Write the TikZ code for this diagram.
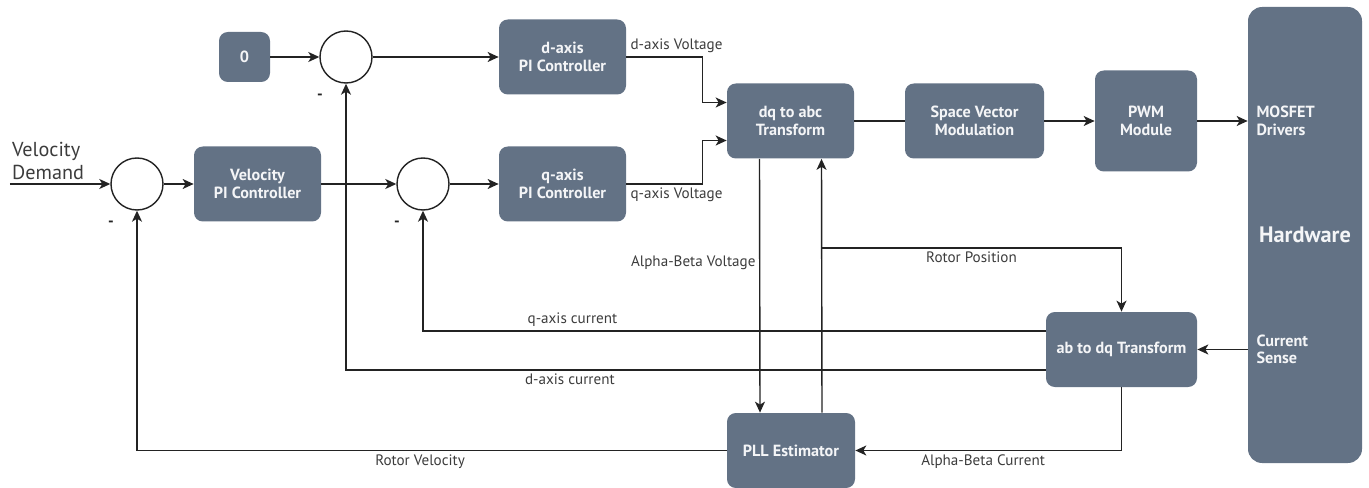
\documentclass[tikz,border=0pt]{standalone}
\usepackage{fontspec}
\setmainfont{PT Sans}
\usetikzlibrary{arrows.meta, positioning, calc}
\definecolor{myslate}{RGB}{99,114,133}
\definecolor{mylight}{RGB}{244,245,247}
\definecolor{mydark}{RGB}{35,35,35}
\definecolor{mygray}{RGB}{60,60,60}
\tikzset{
  block/.style={rectangle, fill=myslate, text=mylight, align=center,
    minimum width=2.54cm, minimum height=1.5cm, rounded corners=5pt,
    font=\fontsize{9.2}{10}\selectfont\bfseries, inner sep=2pt},
  sumc/.style={circle, draw=mydark, fill=white, minimum size=1.04cm,
    line width=0.8pt, inner sep=0pt},
  arrow/.style={-{Stealth[length=2.2mm, width=2mm, inset=0.6mm]}, line width=0.8pt, color=mydark},
  line/.style={line width=0.8pt, color=mydark},
  lbl/.style={font=\fontsize{8.6}{10}\selectfont, text=mygray, inner sep=2pt},
  minus/.style={font=\bfseries\small, text=mydark, inner sep=0pt}
}
\begin{document}
\begin{tikzpicture}
  \useasboundingbox (0,0) rectangle (27.38,-9.76);

  % Summing junctions
  \node[sumc] (s0) at (2.74, -3.68) {};
  \node[sumc] (s1) at (6.92, -1.14) {};
  \node[sumc] (s2) at (8.46, -3.68) {};
  \foreach \s in {s0, s1, s2}
    \node[minus] at ([shift={(-0.52,-0.8)}]\s.center) {-};

  % Controllers
  \node[block, minimum width=1.02cm, minimum height=1.0cm] (zero) at (4.89, -1.14) {0};
  \node[block] (velpi) at (5.15, -3.68) {Velocity\\PI Controller};
  \node[block] (dpi) at (11.25, -1.14) {d-axis\\PI Controller};
  \node[block] (qpi) at (11.25, -3.68) {q-axis\\PI Controller};

  % Forward path
  \node[block] (dq) at (15.81, -2.42) {dq to abc\\Transform};
  \node[block, minimum width=2.78cm] (svm) at (19.49, -2.42) {Space Vector\\Modulation};
  \node[block, minimum width=2.04cm, minimum height=2.02cm] (pwm) at (22.92, -2.42) {PWM\\Module};
  \node[block, minimum width=2.28cm, minimum height=9.12cm, rounded corners=8pt,
    font=\fontsize{12.7}{14}\selectfont\bfseries] (hw) at (26.10, -4.70) {Hardware};
  \node[block, minimum width=0cm, minimum height=0cm, align=left, anchor=west]
    (mosfet) at ([xshift=0.1cm]hw.west |- pwm.east) {MOSFET\\Drivers};

  % Feedback path
  \node[block, minimum width=3.02cm] (abdq) at (22.43, -6.99) {ab to dq Transform};
  \node[block, minimum width=0cm, minimum height=0cm, align=left, anchor=west]
    (sense) at ([xshift=0.1cm]hw.west |- abdq.east) {Current\\Sense};
  \node[block, minimum width=2.56cm] (pll) at (15.82, -9.01) {PLL Estimator};

  % Velocity demand input
  \coordinate (vin) at (0.2, -3.68);
  \node[anchor=south west, align=left, text=mygray, inner sep=1pt,
    font=\fontsize{11.5}{13}\selectfont] (vdem) at ([yshift=0.04cm]vin) {Velocity\\Demand};
  \draw[arrow] (vin) -- (s0.west);

  % Forward connections
  \draw[arrow] (s0.east) -- (velpi.west);
  \draw[arrow] (velpi.east) -- (s2.west);
  \draw[arrow] (zero.east) -- (s1.west);
  \draw[arrow] (s1.east) -- (dpi.west);
  \draw[arrow] (s2.east) -- (qpi.west);
  \draw[arrow] (dpi.east) -- node[lbl, above right, pos=0] {d-axis Voltage} ++(1.52,0) |- ([yshift=0.37cm]dq.west);
  \draw[arrow] (qpi.east) -- node[lbl, below right, pos=0] {q-axis Voltage} ++(1.52,0) |- ([yshift=-0.39cm]dq.west);
  \draw[line] (dq.east) -- (svm.west);
  \draw[arrow] (svm.east) -- (pwm.west);
  \draw[arrow] (pwm.east) -- (pwm.east -| hw.west);

  % Estimator loop
  \draw[arrow] ([xshift=-0.62cm]dq.south) -- node[lbl, left, pos=0.41] {Alpha-Beta Voltage} ([xshift=-0.62cm]pll.north);
  \draw[arrow] ([xshift=0.62cm]pll.north) -- ([xshift=0.62cm]dq.south);
  \coordinate (rpjoin) at ([xshift=0.62cm]dq.south |- 0,-4.96);
  \draw[arrow] (rpjoin) -| node[lbl, below, pos=0.25] {Rotor Position} (abdq.north);
  \draw[arrow] (abdq.east -| hw.west) -- (abdq.east);
  \draw[arrow] (abdq.south) |- node[lbl, below, pos=0.76] {Alpha-Beta Current} (pll.east);

  % Current and velocity feedback
  \draw[arrow] ([yshift=0.37cm]abdq.west) -| node[lbl, above, pos=0.38] {q-axis current} (s2.south);
  \draw[arrow] ([yshift=-0.41cm]abdq.west) -| node[lbl, below, pos=0.34] {d-axis current} (s1.south);
  \draw[arrow] (pll.west) -| node[lbl, below, pos=0.26] {Rotor Velocity} (s0.south);
\end{tikzpicture}
\end{document}
